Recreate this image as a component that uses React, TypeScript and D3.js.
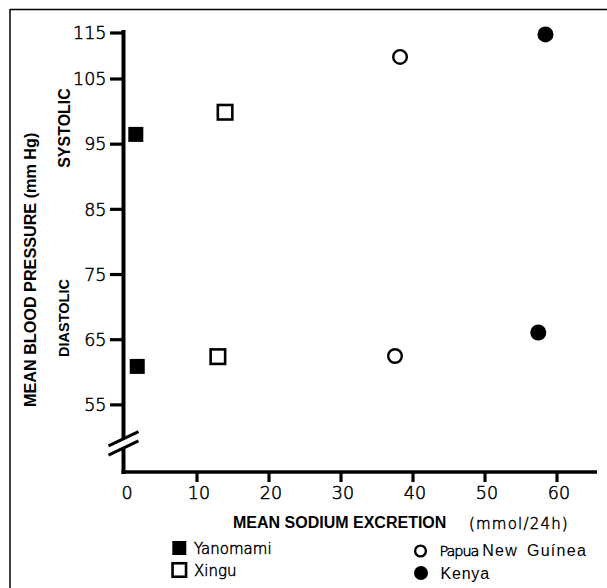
import React from "react";
import * as d3 from "d3";

// ---- data ----
const categories = ["Yanomami", "Xingu", "Papua New Guínea", "Kenya"];
const systolicSodium = [1.5, 13.9, 38.2, 58.4];
const systolicBP = [96.5, 99.9, 109.8, 114.7];
const diastolicSodium = [1.7, 12.9, 37.5, 57.4];
const diastolicBP = [60.9, 62.4, 62.5, 66.1];
const yTicks = [55, 65, 75, 85, 95, 105, 115];
const xTicks = [0, 10, 20, 30, 40, 50, 60];

// marker style per category
const markerKinds = ["filledSquare", "openSquare", "openCircle", "filledCircle"];

const W = 607;
const H = 588;
const LIGHT = "'DejaVu Sans', sans-serif";
const BOLD = "'Liberation Sans', Arial, sans-serif";

const x = d3.scaleLinear().domain([0, 60]).range([125, 557]);
// axis is hand-drawn: the top interval is compressed
const y = d3.scaleLinear().domain([44.7, 105, 115]).range([472, 79, 33]);

const lightText = {
  fontFamily: LIGHT,
  fontWeight: 200,
  fill: "#000",
  stroke: "#000",
  strokeWidth: 0.5,
} as const;

function Marker({ kind, cx, cy, big }: { kind: string; cx: number; cy: number; big?: boolean }) {
  if (kind === "filledSquare") {
    const s = big ? 15 : 14;
    return <rect x={cx - s / 2} y={cy - s / 2} width={s} height={s} fill="#000" />;
  }
  if (kind === "openSquare") {
    const s = big ? 14.5 : 13.5;
    return (
      <rect x={cx - s / 2} y={cy - s / 2} width={s} height={s} fill="#fff" stroke="#000" strokeWidth={2.6} />
    );
  }
  if (kind === "openCircle") {
    return <circle cx={cx} cy={cy} r={big ? 6.8 : 5.4} fill="#fff" stroke="#000" strokeWidth={2.4} />;
  }
  return <circle cx={cx} cy={cy} r={big ? 8 : 7} fill="#000" />;
}

export default function App() {
  const axisX = 123.5;
  const axisY = y(44.7);
  const xEnd = 597;
  // break marks
  const breakUpperY = 438.8;
  const breakLowerY = 447.9;
  const slope = -0.475;
  const brk = (cy: number) => {
    const x1 = axisX - 15;
    const x2 = axisX + 15;
    return { x1, y1: cy + (x1 - axisX) * slope, x2, y2: cy + (x2 - axisX) * slope };
  };
  const b1 = brk(breakUpperY);
  const b2 = brk(breakLowerY);
  const [papua, ...rest] = categories[2].split(" ");

  return (
    <svg
      width={W}
      height={H}
      viewBox={`0 0 ${W} ${H}`}
      style={{ position: "absolute", left: 0, top: 0, background: "#fff" }}
    >
      <rect x={0} y={0} width={W} height={H} fill="#fff" />
      {/* outer frame */}
      <line x1={10} y1={9.5} x2={W} y2={9.5} stroke="#000" strokeWidth={1.5} />
      <line x1={10} y1={9} x2={10} y2={H} stroke="#000" strokeWidth={1.5} />

      {/* y axis (broken) */}
      <line x1={axisX} y1={30} x2={axisX} y2={breakUpperY} stroke="#000" strokeWidth={4} />
      <line x1={axisX} y1={breakLowerY} x2={axisX} y2={axisY + 2} stroke="#000" strokeWidth={4} />
      <line {...b1} stroke="#000" strokeWidth={3} />
      <line {...b2} stroke="#000" strokeWidth={3} />

      {/* y ticks */}
      {yTicks.map((t) => (
        <g key={t}>
          <line x1={110} x2={axisX} y1={y(t)} y2={y(t)} stroke="#000" strokeWidth={3.2} />
          <text x={106.5} y={y(t)} dy="0.36em" textAnchor="end" fontSize={17.5} {...lightText}>
            {t}
          </text>
        </g>
      ))}

      {/* x axis */}
      <line x1={axisX - 2} y1={axisY} x2={xEnd} y2={axisY} stroke="#000" strokeWidth={3.6} />
      {xTicks.map((t) => (
        <g key={t}>
          {t > 0 && (
            <line x1={x(t)} x2={x(t)} y1={axisY} y2={axisY + 10} stroke="#000" strokeWidth={3.2} />
          )}
          <text x={x(t) + 2} y={499} textAnchor="middle" fontSize={17.5} {...lightText}>
            {t}
          </text>
        </g>
      ))}

      {/* axis titles */}
      <text
        transform="translate(36,407) rotate(-90)"
        fontFamily={BOLD}
        fontWeight="bold"
        fontSize={16.2}
        fill="#000"
      >
        MEAN BLOOD PRESSURE (mm Hg)
      </text>
      <text
        transform="translate(70,128) rotate(-90)"
        textAnchor="middle"
        fontFamily={BOLD}
        fontWeight="bold"
        fontSize={16}
        fill="#000"
      >
        SYSTOLIC
      </text>
      <text
        transform="translate(68.5,318) rotate(-90)"
        textAnchor="middle"
        fontFamily={BOLD}
        fontWeight="bold"
        fontSize={14.5}
        fill="#000"
      >
        DIASTOLIC
      </text>
      <text x={233} y={527.5} fontFamily={BOLD} fontWeight="bold" fontSize={16} fill="#000">
        MEAN SODIUM EXCRETION
      </text>
      <text x={469} y={529} fontSize={15} letterSpacing={1.2} {...lightText}>
        (mmol/24h)
      </text>

      {/* data points */}
      {categories.map((c, i) => (
        <g key={c}>
          <Marker kind={markerKinds[i]} cx={x(systolicSodium[i])} cy={y(systolicBP[i])} big />
          <Marker kind={markerKinds[i]} cx={x(diastolicSodium[i])} cy={y(diastolicBP[i])} big />
        </g>
      ))}

      {/* legend */}
      <Marker kind={markerKinds[0]} cx={179.3} cy={548} />
      <text x={194} y={553.5} fontSize={15} {...lightText}>
        {categories[0]}
      </text>
      <Marker kind={markerKinds[1]} cx={179.3} cy={570} />
      <text x={194} y={575.5} fontSize={15} {...lightText}>
        {categories[1]}
      </text>
      <Marker kind={markerKinds[2]} cx={420.5} cy={551} />
      <text x={439.5} y={556}>
        <tspan fontSize={14.5} letterSpacing={-1.1} {...lightText}>
          {papua}
        </tspan>
        <tspan dx={4} fontFamily={BOLD} fontSize={16} letterSpacing={1.3} wordSpacing={3} fill="#000">
          {rest.join(" ")}
        </tspan>
      </text>
      <Marker kind={markerKinds[3]} cx={421} cy={573} />
      <text x={440.5} y={579.3} fontFamily={BOLD} fontSize={16} letterSpacing={0.8} fill="#000">
        {categories[3]}
      </text>
    </svg>
  );
}
